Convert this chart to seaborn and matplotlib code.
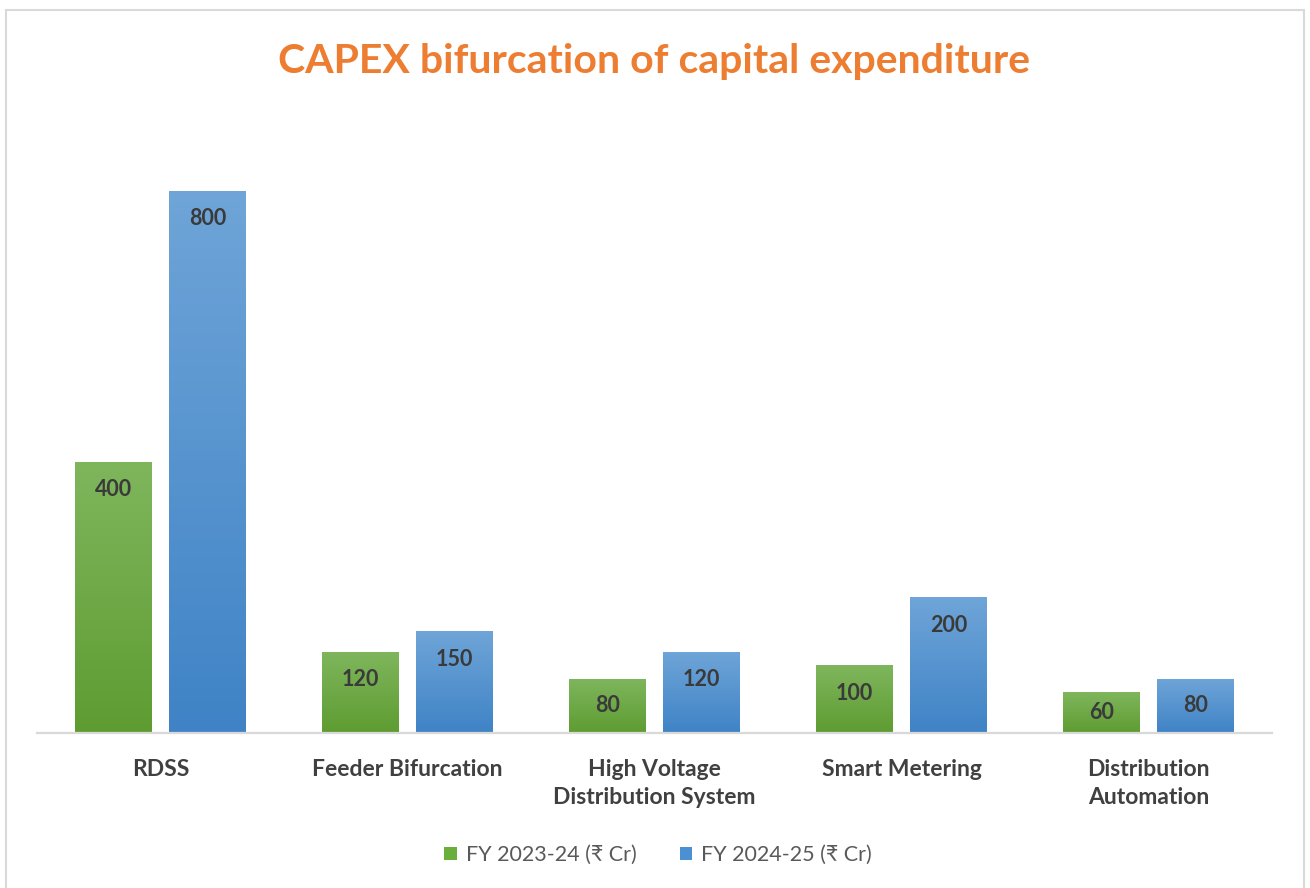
import matplotlib
matplotlib.use("Agg")
import matplotlib.pyplot as plt
import seaborn as sns
import pandas as pd
import numpy as np
from matplotlib.colors import LinearSegmentedColormap
from matplotlib.patches import Patch
from matplotlib.lines import Line2D

categories = ["RDSS", "Feeder Bifurcation", "High Voltage\nDistribution System",
              "Smart Metering", "Distribution\nAutomation"]
fy2324 = [400, 120, 80, 100, 60]
fy2425 = [800, 150, 120, 200, 80]
series_names = ["FY 2023-24 (₹ Cr)", "FY 2024-25 (₹ Cr)"]

sns.set_theme(style="white")
plt.rcParams['font.family'] = ['Lato', 'DejaVu Sans']

df = pd.DataFrame({
    "category": categories * 2,
    "value": fy2324 + fy2425,
    "series": [series_names[0]] * len(categories) + [series_names[1]] * len(categories),
})

green_mid = "#6AAE3C"
blue_mid = "#4A90D2"
grad = {
    series_names[0]: ("#7FB65D", "#5E9C31"),
    series_names[1]: ("#6FA5D8", "#3F83C6"),
}

fig = plt.figure(figsize=(13.1, 8.88), dpi=100)
ax = fig.add_axes([37/1310, (888-733)/888, (1272-37)/1310, (733-130)/888])

sns.barplot(data=df, x="category", y="value", hue="series", order=categories,
            hue_order=series_names, palette=[green_mid, blue_mid], width=0.76, gap=0.18,
            ax=ax, legend=False, saturation=1)

ymax = 890

for container, name in zip(ax.containers, series_names):
    top_c, bot_c = grad[name]
    cmap = LinearSegmentedColormap.from_list(name, [bot_c, top_c])
    for bar in container:
        x0, y0 = bar.get_x(), bar.get_y()
        w, h = bar.get_width(), bar.get_height()
        arr = np.linspace(0, 1, 256).reshape(-1, 1)
        im = ax.imshow(arr, cmap=cmap, origin="lower", aspect="auto",
                       extent=[x0, x0 + w, y0, y0 + h], zorder=bar.get_zorder(),
                       interpolation="bilinear")
        im.set_clip_path(bar)
        bar.set_facecolor("none")
        bar.set_edgecolor("none")
        v = h
        ylab = v - min(41, v / 2)
        ax.text(x0 + w / 2, ylab, f"{int(v)}", ha="center", va="center",
                fontsize=15.5, fontweight="bold", color="#3A3A3A", zorder=5)

ax.set_xlim(-0.5, len(categories) - 0.5)
ax.set_ylim(0, ymax)

for s in ["top", "right", "left"]:
    ax.spines[s].set_visible(False)
ax.spines["bottom"].set_color("#D9D9D9")
ax.spines["bottom"].set_linewidth(1.6)
ax.set_yticks([])
ax.set_xlabel("")
ax.set_ylabel("")
ax.tick_params(axis="x", length=0, pad=19)
for lab in ax.get_xticklabels():
    lab.set_fontsize(16.5)
    lab.set_fontweight("bold")
    lab.set_color("#404040")
    lab.set_linespacing(1.4)
    lab.set_va("top")

fig.text(654/1310, 1 - 62/888, "CAPEX bifurcation of capital expenditure",
         ha="center", va="center", fontsize=29.5, fontweight="bold", color="#ED7D31")

handles = [Patch(facecolor=green_mid, edgecolor="none"),
           Patch(facecolor=blue_mid, edgecolor="none")]
leg = fig.legend(handles, series_names, loc="center", bbox_to_anchor=(658/1310, 1 - 855/888),
                 ncol=2, frameon=False, fontsize=15.5, handlelength=0.6, handleheight=0.6,
                 handletextpad=0.4, columnspacing=2.0)
for t in leg.get_texts():
    t.set_color("#595959")

fig.add_artist(Line2D([6/1310, 6/1310], [0, 1 - 10/888], transform=fig.transFigure,
                      color="#D9D9D9", lw=1.5))
fig.add_artist(Line2D([6/1310, 1304/1310], [1 - 10/888, 1 - 10/888], transform=fig.transFigure,
                      color="#D9D9D9", lw=1.5))
fig.add_artist(Line2D([1304/1310, 1304/1310], [0, 1 - 10/888], transform=fig.transFigure,
                      color="#D9D9D9", lw=1.5))

fig.savefig("out.png", dpi=100, facecolor="white")
